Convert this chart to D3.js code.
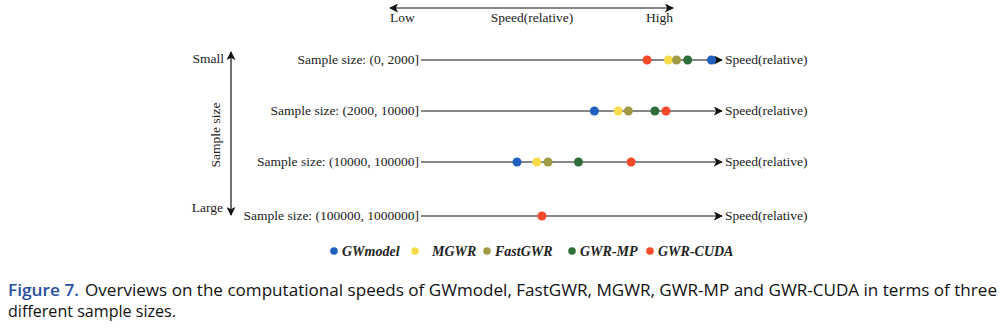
<!DOCTYPE html>
<html>
<head>
<meta charset="utf-8">
<script src="https://cdn.jsdelivr.net/npm/d3@7"></script>
<style>
  body { margin: 0; background: #fff; }
  svg text { font-family: "Liberation Serif", "Times New Roman", serif; fill: #222; }
</style>
</head>
<body>
<div id="chart"></div>
<script>
// data (relative speed, 0 = line start, 100 = arrow tip)
const methods = ["GWmodel", "MGWR", "FastGWR", "GWR-MP", "GWR-CUDA"];
const colors = ["#1f5fbf", "#f7dc4a", "#a09a45", "#2e6e3a", "#f44a2a"];
const rowLabels = [
    "Sample size: (0, 2000]",
    "Sample size: (2000, 10000]",
    "Sample size: (10000, 100000]",
    "Sample size: (100000, 1000000]"
];
// one array per method, one value per row (null = not shown)
const gwmodelSpeed = [96.5, 57.6, 31.9, null];
const mgwrSpeed = [82.2, 65.5, 38.5, null];
const fastgwrSpeed = [84.9, 68.9, 42.2, null];
const gwrmpSpeed = [88.6, 77.7, 52.3, null];
const gwrcudaSpeed = [75.1, 81.4, 69.8, 40.2];
const speeds = [gwmodelSpeed, mgwrSpeed, fastgwrSpeed, gwrmpSpeed, gwrcudaSpeed];

const width = 1005, height = 331;

const svg = d3.select("#chart").append("svg")
    .attr("width", width)
    .attr("height", height);

const defs = svg.append("defs");
defs.append("marker")
    .attr("id", "head")
    .attr("viewBox", "0 0 10 10")
    .attr("refX", 9).attr("refY", 5)
    .attr("markerWidth", 9).attr("markerHeight", 9)
    .attr("markerUnits", "userSpaceOnUse")
    .attr("orient", "auto-start-reverse")
    .append("path")
    .attr("d", "M0,0 L10,5 L0,10 L2.5,5 Z")
    .attr("fill", "#111");

const x = d3.scaleLinear().domain([0, 100]).range([421, 722]);
// rows are not quite evenly spaced in the figure
const rowY = [60, 111, 162, 216];

// top "speed" arrow
const topArrow = svg.append("g");
topArrow.append("line")
    .attr("x1", 390).attr("x2", 673).attr("y1", 8).attr("y2", 8)
    .attr("stroke", "#111").attr("stroke-width", 1.2)
    .attr("marker-start", "url(#head)").attr("marker-end", "url(#head)");
topArrow.append("text").attr("x", 390).attr("y", 22).attr("font-size", 13.5).text("Low");
topArrow.append("text").attr("x", 532).attr("y", 22).attr("font-size", 13.5)
    .attr("text-anchor", "middle").text("Speed(relative)");
topArrow.append("text").attr("x", 673).attr("y", 22).attr("font-size", 13.5)
    .attr("text-anchor", "end").text("High");

// vertical sample size arrow
const side = svg.append("g");
side.append("line")
    .attr("x1", 231).attr("x2", 231).attr("y1", 52).attr("y2", 215)
    .attr("stroke", "#111").attr("stroke-width", 1.2)
    .attr("marker-start", "url(#head)").attr("marker-end", "url(#head)");
side.append("text").attr("x", 224).attr("y", 63).attr("font-size", 13.5)
    .attr("text-anchor", "end").text("Small");
side.append("text").attr("x", 223).attr("y", 212).attr("font-size", 13.5)
    .attr("text-anchor", "end").text("Large");
side.append("text")
    .attr("transform", "translate(220,135) rotate(-90)")
    .attr("font-size", 13.5).attr("text-anchor", "middle").text("Sample size");

// rows
const rows = svg.selectAll("g.row")
    .data(rowLabels)
    .enter().append("g")
    .attr("class", "row")
    .attr("transform", (d, i) => `translate(0,${rowY[i]})`);

rows.append("line")
    .attr("x1", x(0)).attr("x2", x(100))
    .attr("stroke", "#111").attr("stroke-width", 1.2)
    .attr("marker-end", "url(#head)");

rows.append("text")
    .attr("x", x(0) - 2).attr("y", 4)
    .attr("font-size", 13.5).attr("text-anchor", "end")
    .text(d => d);

rows.append("text")
    .attr("x", x(100) + 3).attr("y", 4)
    .attr("font-size", 13.5)
    .text("Speed(relative)");

// points
const points = [];
speeds.forEach((arr, m) => {
    arr.forEach((v, r) => {
        if (v !== null) points.push({ method: m, row: r, value: v });
    });
});

svg.selectAll("circle.pt")
    .data(points)
    .enter().append("circle")
    .attr("class", "pt")
    .attr("cx", d => x(d.value))
    .attr("cy", d => rowY[d.row])
    .attr("r", 4.5)
    .attr("fill", d => colors[d.method]);

// legend
const legendX = [334, 415, 487, 572, 650];
const legend = svg.selectAll("g.leg")
    .data(methods)
    .enter().append("g")
    .attr("class", "leg")
    .attr("transform", (d, i) => `translate(${legendX[i]},251)`);
legend.append("circle")
    .attr("r", 3.8)
    .attr("fill", (d, i) => colors[i]);
legend.append("text")
    .attr("x", (d, i) => i === 1 ? 17 : 8)
    .attr("y", 4.5)
    .attr("font-size", 14)
    .attr("font-weight", "bold")
    .attr("font-style", "italic")
    .text(d => d);

// caption
const capFont = "'Open Sans', 'Liberation Sans', sans-serif";
svg.append("text")
    .attr("x", 8).attr("y", 296)
    .attr("font-size", 17)
    .attr("font-weight", 600)
    .attr("textLength", 71)
    .attr("lengthAdjust", "spacingAndGlyphs")
    .style("font-family", capFont)
    .style("fill", "#2a4ea0")
    .text("Figure 7.");
svg.append("text")
    .attr("x", 85).attr("y", 296)
    .attr("font-size", 17)
    .attr("textLength", 912)
    .attr("lengthAdjust", "spacingAndGlyphs")
    .style("font-family", capFont)
    .style("fill", "#111")
    .text("Overviews on the computational speeds of GWmodel, FastGWR, MGWR, GWR-MP and GWR-CUDA in terms of three");
svg.append("text")
    .attr("x", 8).attr("y", 317)
    .attr("font-size", 17)
    .attr("textLength", 168)
    .attr("lengthAdjust", "spacingAndGlyphs")
    .style("font-family", capFont)
    .style("fill", "#111")
    .text("different sample sizes.");
</script>
</body>
</html>
